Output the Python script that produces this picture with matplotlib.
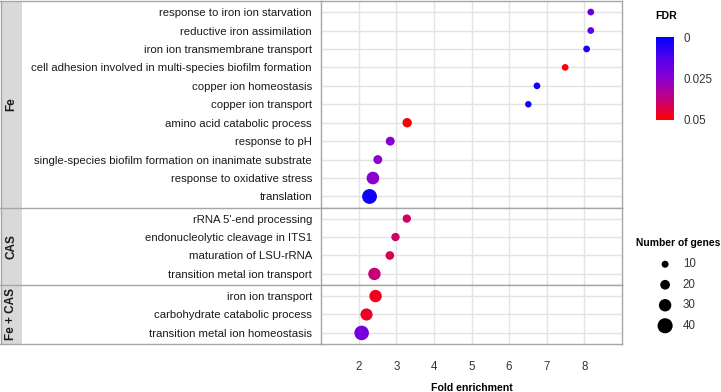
import numpy as np
import matplotlib
matplotlib.use('Agg')
import matplotlib.pyplot as plt
from matplotlib.colors import LinearSegmentedColormap
from matplotlib.lines import Line2D
from matplotlib.patches import Rectangle

plt.rcParams['font.family'] = ['Liberation Sans', 'DejaVu Sans']

# facet "Fe"
fe_terms = ['response to iron ion starvation', 'reductive iron assimilation',
            'iron ion transmembrane transport',
            'cell adhesion involved in multi-species biofilm formation',
            'copper ion homeostasis', 'copper ion transport',
            'amino acid catabolic process', 'response to pH',
            'single-species biofilm formation on inanimate substrate',
            'response to oxidative stress', 'translation']
fe_fold = [8.17, 8.17, 8.06, 7.49, 6.74, 6.51, 3.29, 2.84, 2.51, 2.38, 2.29]
fe_fdr = [0.016, 0.016, 0.004, 0.049, 0.002, 0.002, 0.049, 0.024, 0.025, 0.025, 0.002]
fe_genes = [9, 9, 9, 9, 9, 8, 19, 17, 17, 31, 39]

# facet "CAS"
cas_terms = ["rRNA 5'-end processing", 'endonucleolytic cleavage in ITS1',
             'maturation of LSU-rRNA', 'transition metal ion transport']
cas_fold = [3.28, 2.98, 2.83, 2.42]
cas_fdr = [0.040, 0.040, 0.042, 0.038]
cas_genes = [15, 15, 16, 30]

# facet "Fe + CAS"
both_terms = ['iron ion transport', 'carbohydrate catabolic process',
              'transition metal ion homeostasis']
both_fold = [2.45, 2.21, 2.08]
both_fdr = [0.047, 0.046, 0.020]
both_genes = [30, 29, 38]

facets = [('Fe', fe_terms, fe_fold, fe_fdr, fe_genes),
          ('CAS', cas_terms, cas_fold, cas_fdr, cas_genes),
          ('Fe + CAS', both_terms, both_fold, both_fdr, both_genes)]

x_breaks = [2, 3, 4, 5, 6, 7, 8]
fdr_breaks = [0, 0.025, 0.05]
size_breaks = [10, 20, 30, 40]

W, H = 721, 392
fig = plt.figure(figsize=(W / 100, H / 100), dpi=100)

def fx(px):
    return px / W

def fy(py):
    return 1 - py / H

cmap = LinearSegmentedColormap.from_list(
    'fdr', ['#0000FF', '#5200EC', '#8A00CF', '#C4007F', '#FF0000'])

def dot_size(n):
    d_px = 4.3 + 0.27 * np.asarray(n, dtype=float)
    return (d_px * 0.72) ** 2

border = '#A6A6A6'
grid_c = '#E3E3E3'
small = 8.3
panel_l, panel_r = 321, 622
top, bottom = 1, 344
nrows = sum(len(f[1]) + 0.2 for f in facets)
row_h = (bottom - top) / nrows

y0 = top
for name, terms, fold, fdr, genes in facets:
    n = len(terms)
    h = (n + 0.2) * row_h
    ax = fig.add_axes([fx(panel_l), fy(y0 + h), fx(panel_r - panel_l), h / H])
    yy = np.arange(n)
    ax.scatter(fold, yy, c=fdr, s=dot_size(genes), cmap=cmap, vmin=0, vmax=0.05,
               edgecolors='none', zorder=3)
    ax.set_xlim(1, 9)
    ax.set_ylim(n - 0.4, -0.6)
    ax.set_yticks(yy)
    ax.set_yticklabels(terms, fontsize=8.2, color='#1A1A1A')
    ax.set_xticks(x_breaks)
    ax.grid(True, color=grid_c, linewidth=1.0, zorder=0)
    ax.set_axisbelow(True)
    ax.tick_params(length=0, pad=6.5)
    for s in ax.spines.values():
        s.set_color(border)
        s.set_linewidth(1.0)
    if name != 'Fe + CAS':
        ax.set_xticklabels([])
    else:
        ax.set_xticklabels([str(v) for v in x_breaks], fontsize=small, color='#333333')
        ax.tick_params(axis='x', pad=12)
        ax.set_xlabel('Fold enrichment', fontsize=7.6, fontweight='bold', labelpad=7.5)
    # strip on the left
    fig.patches.append(Rectangle((fx(1), fy(y0 + h)), fx(21), h / H,
                                 transform=fig.transFigure, facecolor='#D9D9D9',
                                 edgecolor='none', zorder=0))
    fig.text(fx(11.5), fy(y0 + h / 2), name, rotation=90, ha='center', va='center',
             fontsize=8.5, fontweight='bold', color='#1A1A1A')
    y0 += h

# table-like lines across label area
y0 = top
edges = [top]
for f in facets:
    y0 += (len(f[1]) + 0.2) * row_h
    edges.append(y0)
for e in edges:
    fig.add_artist(Line2D([fx(0), fx(panel_l)], [fy(e), fy(e)], color=border,
                          linewidth=1.0, transform=fig.transFigure))
fig.add_artist(Line2D([fx(0.5), fx(0.5)], [fy(top), fy(bottom)], color=border,
                      linewidth=1.0, transform=fig.transFigure))

# FDR colour bar
cax = fig.add_axes([fx(656), fy(120), fx(18), 83 / H])
sm = plt.cm.ScalarMappable(cmap=cmap, norm=plt.Normalize(0, 0.05))
cb = fig.colorbar(sm, cax=cax, ticks=fdr_breaks)
cb.ax.invert_yaxis()
cb.ax.set_yticklabels(['0', '0.025', '0.05'], fontsize=small, color='#333333')
cb.ax.tick_params(length=0, pad=6.5)
cb.outline.set_visible(False)
fig.text(fx(655), fy(16), 'FDR', fontsize=7.6, fontweight='bold', va='center')

# size legend
lax = fig.add_axes([fx(640), fy(336), fx(81), 82 / H])
lax.set_xlim(0, 1)
lax.set_ylim(len(size_breaks) - 0.5, -0.5)
lax.scatter([0.31] * len(size_breaks), range(len(size_breaks)),
            s=dot_size(size_breaks), color='black', edgecolors='none')
for i, v in enumerate(size_breaks):
    lax.text(0.53, i, str(v), fontsize=small, color='#333333', va='center')
lax.axis('off')
fig.text(fx(636), fy(243), 'Number of genes', fontsize=7.4, fontweight='bold',
         va='center')

fig.savefig('out.png', dpi=100)
